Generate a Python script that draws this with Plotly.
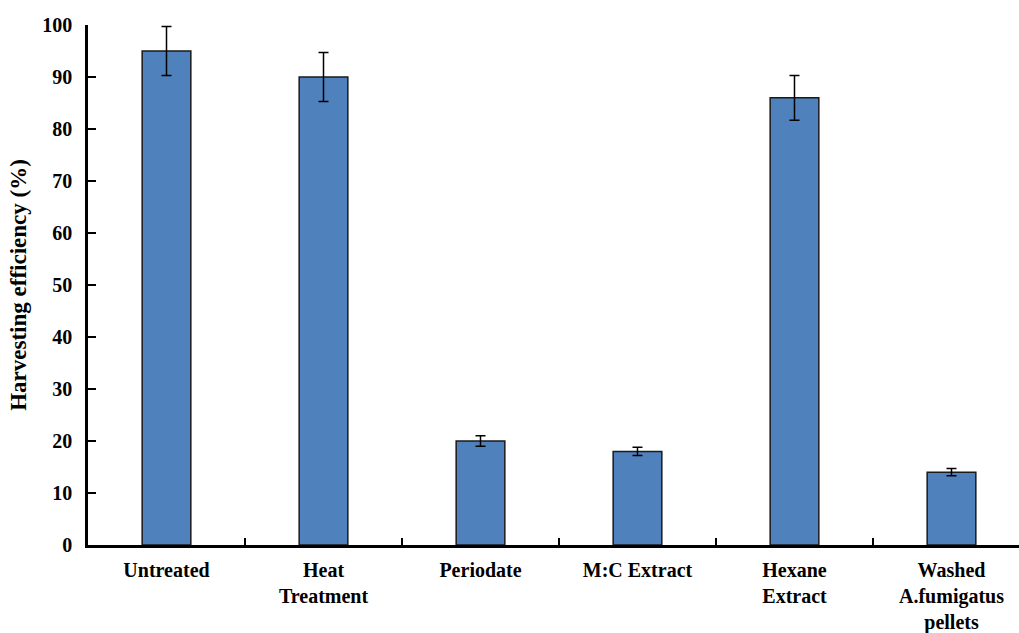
import plotly.graph_objects as go

categories = ["Untreated", "Heat<br>Treatment", "Periodate", "M:C Extract",
              "Hexane<br>Extract", "Washed<br>A.fumigatus<br>pellets"]
efficiency = [95, 90, 20, 18, 86, 14]
error = [4.7, 4.7, 1.0, 0.8, 4.3, 0.7]
y_ticks = [0, 10, 20, 30, 40, 50, 60, 70, 80, 90, 100]

font_family = "Liberation Serif, Times New Roman, serif"

fig = go.Figure()
fig.add_trace(go.Bar(
    x=categories, y=efficiency,
    width=0.31,
    marker=dict(color="#4F81BD", line=dict(color="#1a1a1a", width=1.5)),
    error_y=dict(type="data", array=error, visible=True, color="black",
                 thickness=1.5, width=5),
))

fig.update_layout(
    width=1019, height=633,
    margin=dict(l=88, r=0, t=25, b=88),
    paper_bgcolor="white", plot_bgcolor="white",
    showlegend=False,
    font=dict(family=font_family, color="black"),
)
fig.update_xaxes(
    range=[-0.5, 5.43],
    automargin=False,
    showline=True, linecolor="black", linewidth=2.5,
    ticks="inside", ticklen=7, tickwidth=2, tickcolor="black",
    tickson="boundaries",
    tickfont=dict(family=font_family, size=20, color="black", weight="bold"),
    ticklabelstandoff=5,
    showgrid=False, zeroline=False,
)
fig.update_yaxes(
    range=[0, 100],
    automargin=False,
    tickvals=y_ticks,
    showline=True, linecolor="black", linewidth=2.5,
    ticks="inside", ticklen=8, tickwidth=2, tickcolor="black",
    tickfont=dict(family=font_family, size=20, color="black", weight="bold"),
    ticklabelstandoff=9,
    showgrid=False, zeroline=False,
    title=dict(text="Harvesting efficiency (%)",
               font=dict(family=font_family, size=23, color="black", weight="bold"),
               standoff=10),
)

fig.write_html("out.html", config={"displayModeBar": False},
               post_script="document.body.style.margin='0';")
